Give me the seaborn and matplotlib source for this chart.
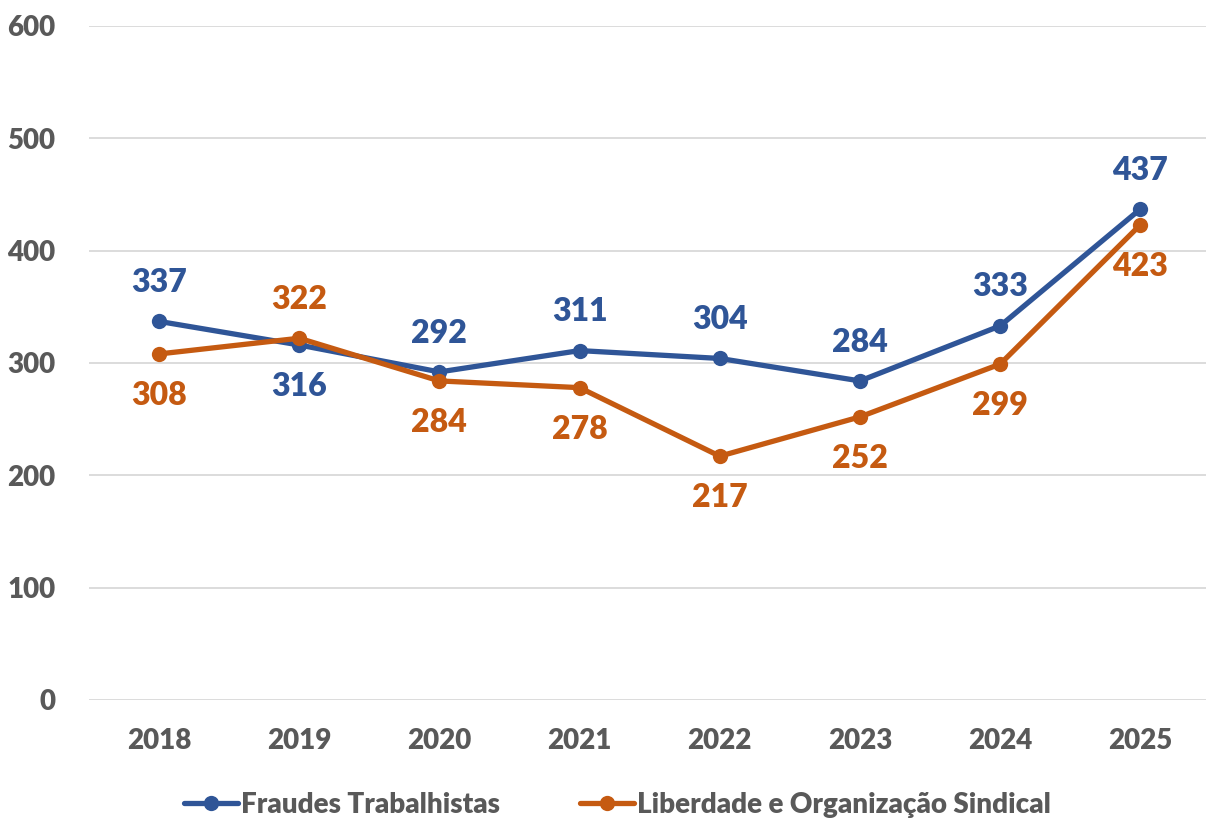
import matplotlib

matplotlib.use("Agg")
import matplotlib.pyplot as plt
import pandas as pd
import seaborn as sns

years = ["2018", "2019", "2020", "2021", "2022", "2023", "2024", "2025"]
fraudes = [337, 316, 292, 311, 304, 284, 333, 437]
liberdade = [308, 322, 284, 278, 217, 252, 299, 423]
series_names = ["Fraudes Trabalhistas", "Liberdade e Organização Sindical"]

# label placement per point: +1 above, -1 below
fraudes_pos = [1, -1, 1, 1, 1, 1, 1, 1]
liberdade_pos = [-1, 1, -1, -1, -1, -1, -1, -1]

BLUE = "#2F5597"
ORANGE = "#C55A11"
GRAY = "#595959"
WEIGHT = "heavy"

df = pd.DataFrame({
    "year": years * 2,
    "value": fraudes + liberdade,
    "series": [series_names[0]] * len(years) + [series_names[1]] * len(years),
})

sns.set_style("white")
plt.rcParams["font.family"] = ["Lato", "DejaVu Sans"]

fig = plt.figure(figsize=(12.06, 8.18), dpi=100)
ax = fig.add_axes([0.0737, 0.1443, 0.930, 0.824])

sns.lineplot(
    data=df, x="year", y="value", hue="series",
    palette=[BLUE, ORANGE], marker="o", markersize=11,
    markeredgewidth=0, linewidth=3.8, sort=False, ax=ax,
)

for vals, pos, color in [(fraudes, fraudes_pos, BLUE), (liberdade, liberdade_pos, ORANGE)]:
    for i, (v, p) in enumerate(zip(vals, pos)):
        ax.annotate(
            str(v), (i, v), xytext=(0, 28 if p > 0 else -30), textcoords="offset points",
            ha="center", va="center", fontsize=23, fontweight=WEIGHT, color=color,
        )

ax.set_xlim(-0.5, 7.5)
ax.set_ylim(0, 600)
ax.set_yticks(range(0, 601, 100))
ax.yaxis.grid(True, color="#D9D9D9", linewidth=1.3)
ax.set_axisbelow(True)
for s in ax.spines.values():
    s.set_visible(False)
ax.set_xlabel("")
ax.set_ylabel("")
ax.tick_params(axis="y", length=0, pad=24, labelsize=20, labelcolor=GRAY)
ax.tick_params(axis="x", length=0, pad=20, labelsize=20, labelcolor=GRAY)
for lab in ax.get_xticklabels() + ax.get_yticklabels():
    lab.set_fontweight(WEIGHT)

handles, labels = ax.get_legend_handles_labels()
ax.legend_.remove()
fig.legend(
    handles, labels, loc="center", bbox_to_anchor=(0.512, 0.016), ncol=2,
    frameon=False, handlelength=1.95, handletextpad=0.1, columnspacing=2.9,
    prop={"size": 20, "weight": WEIGHT}, labelcolor=GRAY,
)

fig.savefig("out.png", dpi=100)
plt.close(fig)
